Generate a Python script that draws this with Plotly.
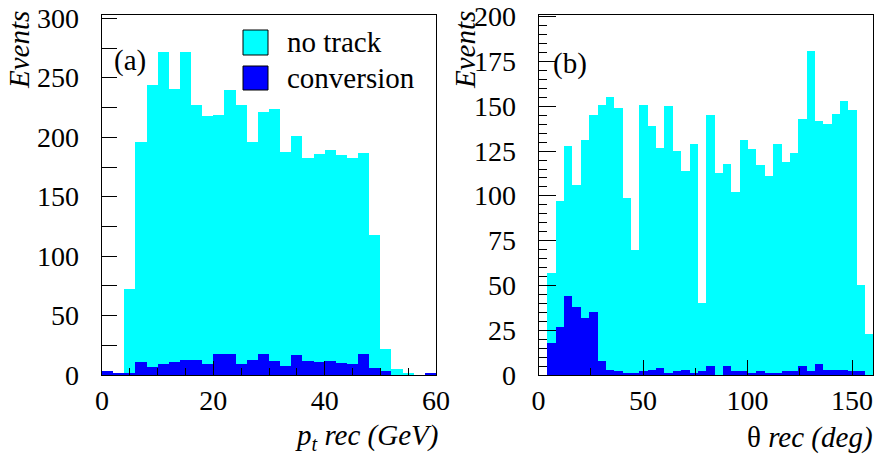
import numpy as np
import plotly.graph_objects as go

W, H = 877, 457

# ---- p_t distribution, 2 GeV bins from 0 to 60 ----
pt_edges = list(range(0, 62, 2))
pt_notrack = [0, 0, 72, 196, 244, 272, 241, 272, 227, 218, 219, 240, 227, 196, 221,
              224, 188, 201, 183, 186, 189, 185, 183, 187, 118, 22, 5, 2, 0, 0]
pt_conversion = [3, 1, 1, 11, 7, 9, 11, 13, 13, 9, 18, 18, 9, 13, 18,
                 12, 8, 17, 12, 11, 12, 10, 9, 18, 6, 3, 0, 0, 0, 1]

# ---- theta distribution, 4 deg bins from 0 to 160 ----
th_edges = list(range(0, 164, 4))
th_notrack = [0, 57, 97, 128, 106, 131, 145, 151, 155, 149, 99, 70, 151, 139, 127,
              150, 125, 114, 129, 40, 145, 113, 118, 102, 131, 126, 117, 111, 129,
              119, 124, 143, 181, 142, 140, 146, 153, 148, 50, 23]
th_conversion = [0, 18, 27, 44, 38, 32, 35, 8, 3, 2, 1, 1, 2, 3, 4,
                 1, 2, 3, 1, 2, 5, 0, 5, 2, 2, 1, 2, 1, 1,
                 2, 2, 5, 2, 6, 3, 3, 3, 2, 2, 0]

# y tick label values
pt_yticks = list(range(0, 301, 50))
th_yticks = list(range(0, 201, 25))

series_names = ["no track", "conversion"]
CYAN = "#00FFFF"
BLUE = "#0000FF"
FONT = "Liberation Serif"


def centers(edges):
    e = np.asarray(edges, dtype=float)
    return (e[:-1] + e[1:]) / 2, np.diff(e)


def px(x):
    return x / W


def py(y):
    return 1 - y / H


fig = go.Figure()
for edges, nt, cv, xa, ya in [(pt_edges, pt_notrack, pt_conversion, "x", "y"),
                              (th_edges, th_notrack, th_conversion, "x2", "y2")]:
    xc, wd = centers(edges)
    fig.add_trace(go.Bar(x=xc, y=nt, width=wd, marker=dict(color=CYAN, line=dict(width=0)),
                         name=series_names[0], xaxis=xa, yaxis=ya, showlegend=False))
    fig.add_trace(go.Bar(x=xc, y=cv, width=wd, marker=dict(color=BLUE, line=dict(width=0)),
                         name=series_names[1], xaxis=xa, yaxis=ya, showlegend=False))

tickfont = dict(family=FONT, size=28, color="black")
common = dict(showline=True, linecolor="black", linewidth=1, mirror=True,
              ticks="inside", tickcolor="black", tickwidth=1, showgrid=False,
              zeroline=False, tickfont=tickfont, automargin=False)

fig.update_layout(
    width=W, height=H, margin=dict(l=0, r=0, t=0, b=0),
    paper_bgcolor="white", plot_bgcolor="white", barmode="overlay", bargap=0,
    font=dict(family=FONT, color="black"),
    xaxis=dict(domain=[px(102), px(436)], range=[0, 60], dtick=20, ticklen=14,
               minor=dict(dtick=5, ticklen=7, ticks="inside", tickcolor="black", showgrid=False),
               anchor="y", **common),
    yaxis=dict(domain=[py(375), py(15)], range=[0, 303], dtick=50, ticklen=15,
               showticklabels=False,
               minor=dict(dtick=25, ticklen=15, ticks="inside", tickcolor="black", showgrid=False),
               anchor="x", **common),
    xaxis2=dict(domain=[px(538.5), px(873)], range=[0, 160], dtick=50, ticklen=15,
                minor=dict(dtick=25, ticklen=7, ticks="inside", tickcolor="black", showgrid=False),
                anchor="y2", **common),
    yaxis2=dict(domain=[py(375), py(15)], range=[0, 201], dtick=25, ticklen=17,
                showticklabels=False,
                minor=dict(dtick=5, ticklen=8, ticks="inside", tickcolor="black", showgrid=False),
                anchor="x2", **common),
)

# y tick labels, placed on each axis's own scale
for vals, yref, xr in [(pt_yticks, "y", 81), (th_yticks, "y2", 518)]:
    for v in vals:
        fig.add_annotation(xref="paper", yref=yref, x=px(xr), y=v, text=str(v),
                           xanchor="right", yanchor="middle", showarrow=False,
                           font=tickfont)

txt = dict(family=FONT, size=29, color="black")
ann = [
    dict(text="<i>Events</i>", x=px(19), y=py(50), textangle=-90),
    dict(text="<i>Events</i>", x=px(465), y=py(50), textangle=-90),
    dict(text="(a)", x=px(130), y=py(60)),
    dict(text="(b)", x=px(570), y=py(63)),
    dict(text="<i>p<sub>t</sub> rec (GeV)</i>", x=px(440), y=py(437), xanchor="right"),
    dict(text="θ <i>rec (deg)</i>", x=px(875), y=py(437), xanchor="right"),
    dict(text=series_names[0], x=px(285), y=py(42), xanchor="left"),
    dict(text=series_names[1], x=px(285), y=py(78), xanchor="left"),
]
for a in ann:
    a.setdefault("xanchor", "center")
    fig.add_annotation(xref="paper", yref="paper", yanchor="middle", showarrow=False,
                       font=txt, **a)

# legend swatches
for (y0, y1), col in [((30, 55), CYAN), ((66, 90), BLUE)]:
    fig.add_shape(type="rect", xref="paper", yref="paper",
                  x0=px(243), x1=px(268), y0=py(y1), y1=py(y0),
                  fillcolor=col, line=dict(color="black", width=1))

fig.write_html("out.html")
